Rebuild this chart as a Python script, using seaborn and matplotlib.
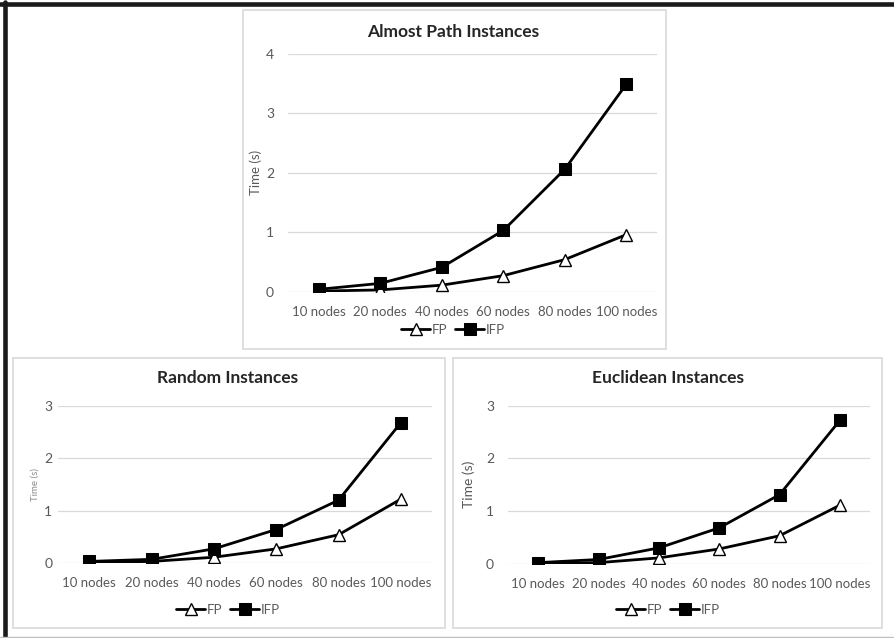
import numpy as np
import pandas as pd
import matplotlib
matplotlib.use("Agg")
import matplotlib.pyplot as plt
import seaborn as sns
from matplotlib.patches import Rectangle
from matplotlib.lines import Line2D

# Datos
nodos = ["10 nodes", "20 nodes", "40 nodes", "60 nodes", "80 nodes", "100 nodes"]

almost_fp = [0.01, 0.03, 0.11, 0.27, 0.54, 0.96]
almost_ifp = [0.04, 0.14, 0.41, 1.03, 2.06, 3.49]

random_fp = [0.01, 0.03, 0.11, 0.27, 0.54, 1.22]
random_ifp = [0.03, 0.07, 0.27, 0.64, 1.20, 2.68]

eucl_fp = [0.01, 0.02, 0.11, 0.28, 0.53, 1.11]
eucl_ifp = [0.02, 0.08, 0.30, 0.68, 1.31, 2.72]

sns.set_style("white")
plt.rcParams['font.family'] = ['Lato', 'DejaVu Sans']

GRIS = "#595959"
BORDE = "#d9d9d9"

W, H = 894, 638
fig = plt.figure(figsize=(W / 100, H / 100), dpi=100)


def px_ax(x0, y0, x1, y1):
    # rectángulo en pixeles (origen arriba a la izquierda) -> ejes
    return fig.add_axes([x0 / W, 1 - y1 / H, (x1 - x0) / W, (y1 - y0) / H])


def caja(x0, y0, x1, y1):
    fig.patches.append(Rectangle((x0 / W, 1 - y1 / H), (x1 - x0) / W, (y1 - y0) / H,
                                 transform=fig.transFigure, fill=False,
                                 edgecolor=BORDE, linewidth=1.2))


def grafica(ax, fp, ifp, titulo, ymax, ylab_size, ylab_color, tit_xy, leg_y, ypad):
    df = pd.DataFrame({"nodos": nodos, "FP": fp, "IFP": ifp})
    sns.lineplot(data=df, x="nodos", y="FP", ax=ax, color="black", lw=2,
                 marker="^", markersize=9, markerfacecolor="white",
                 markeredgecolor="black", markeredgewidth=1, label="FP")
    sns.lineplot(data=df, x="nodos", y="IFP", ax=ax, color="black", lw=2,
                 marker="s", markersize=8, markerfacecolor="black",
                 markeredgecolor="black", label="IFP")
    ax.set_xlim(-0.5, 5.5)
    ax.set_ylim(0, ymax)
    ax.set_yticks(range(ymax + 1))
    ax.grid(axis="y", color=BORDE, lw=0.9)
    ax.set_axisbelow(True)
    for s in ax.spines.values():
        s.set_visible(False)
    ax.tick_params(axis="both", length=0, labelsize=9.5, colors=GRIS, pad=10)
    ax.tick_params(axis="y", pad=ypad, labelsize=10)
    ax.set_xlabel("")
    ax.set_ylabel("Time (s)", fontsize=ylab_size, color=ylab_color)
    fig.text(tit_xy[0] / W, 1 - tit_xy[1] / H, titulo, ha="center", va="center",
             fontsize=12.5, fontweight="bold", color="#262626")
    ax.legend(loc="center", bbox_to_anchor=(0.5, 0), bbox_transform=ax.transAxes,
              ncol=2, frameon=False, fontsize=9.5, handlelength=2.2,
              handletextpad=0.1, columnspacing=0.6, labelcolor=GRIS)
    leg = ax.get_legend()
    leg.set_bbox_to_anchor((tit_xy[0] / W, 1 - leg_y / H), transform=fig.transFigure)


# Paneles
caja(243, 10, 666, 349)
caja(13, 358, 445, 628)
caja(453, 358, 882, 628)

ax1 = px_ax(288, 54, 657, 291.7)
grafica(ax1, almost_fp, almost_ifp, "Almost Path Instances", 4, 9.5, GRIS, (453, 32), 330, 10)
ax1.yaxis.set_label_coords(-0.07, 0.5)

ax2 = px_ax(58, 406, 432, 563)
grafica(ax2, random_fp, random_ifp, "Random Instances", 3, 7, "#8c8c8c", (228, 378), 610, 4)
ax2.yaxis.set_label_coords(-0.048, 0.5)

ax3 = px_ax(508, 405.7, 870, 563.7)
grafica(ax3, eucl_fp, eucl_ifp, "Euclidean Instances", 3, 10, GRIS, (668, 378), 610, 10)
ax3.yaxis.set_label_coords(-0.091, 0.5)

# Marco exterior
fig.lines.append(Line2D([0, 1], [1 - 4 / H, 1 - 4 / H], transform=fig.transFigure,
                        color="#1a1a1a", lw=3.3))
fig.lines.append(Line2D([4.5 / W, 4.5 / W], [0, 1 - 2 / H], transform=fig.transFigure,
                        color="#1a1a1a", lw=3.3))
fig.lines.append(Line2D([0, 1], [1 - 636.5 / H, 1 - 636.5 / H], transform=fig.transFigure,
                        color="#bfbfbf", lw=1))

fig.savefig("out.png", dpi=100)
